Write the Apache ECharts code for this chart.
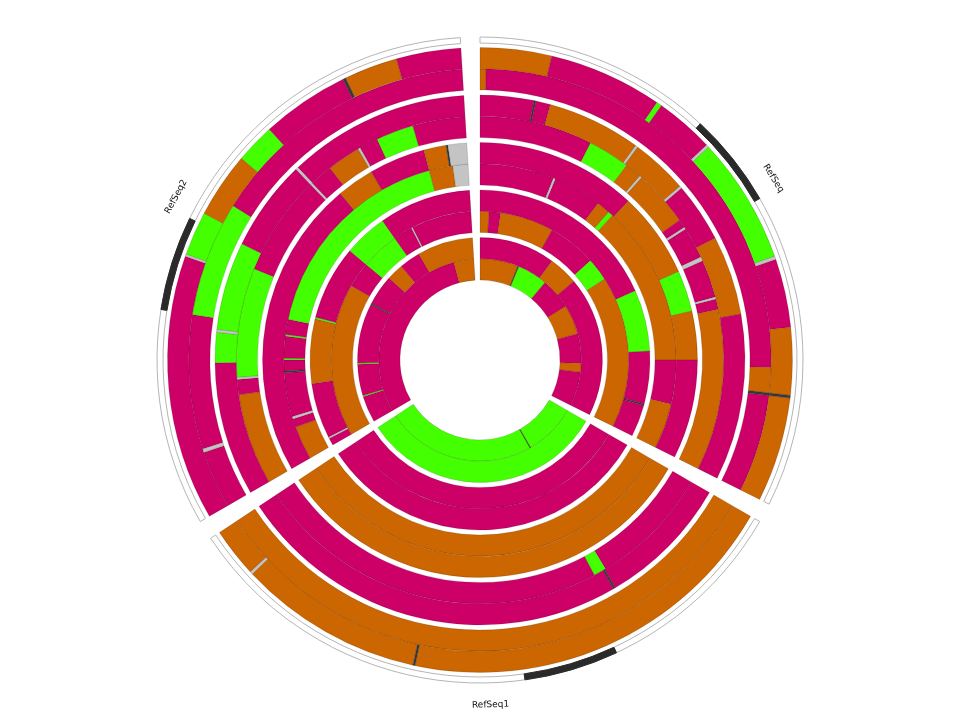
<!DOCTYPE html>
<html><head><meta charset="utf-8">
<script src="https://cdn.jsdelivr.net/npm/echarts/dist/echarts.min.js"></script>
<style>html,body{margin:0;padding:0;background:#fff}#c{width:960px;height:720px}</style>
</head><body><div id="c"></div>
<script>
// ---- data (segment start, end in sector units, class) ----
const sectorNames = ['RefSeq', 'RefSeq1', 'RefSeq2'];
const sectorOffset = [0, 120, 240];
const sectorLength = 116.5;
const darkBands = [[43, 60], [35, 52], [39, 56]];

const refSeq_t0a = [[0,22,'O'],[22,22.5,'k'],[22.5,40,'G'],[40,58,'M'],[58,75,'O'],[75,92,'M'],[92,97,'O'],[97,116.5,'M']];
const refSeq_t0b = [[0,36,'M'],[36,50,'O'],[50,116.5,'M']];
const refSeq_t1a = [[0,3.5,'O'],[3.5,8,'M'],[8,29,'O'],[29,48,'M'],[48,57,'G'],[57,116.5,'O']];
const refSeq_t1b = [[0,66,'M'],[66,87,'G'],[87,105,'M'],[105,105.5,'k'],[105.5,116.5,'M']];
const refSeq_t2a = [[0,22,'M'],[22,22.6,'gr'],[22.6,37,'M'],[37,41,'O'],[41,42.5,'G'],[42.5,90,'O'],[90,103,'M'],[103,116.5,'O']];
const refSeq_t2b = [[0,43,'M'],[43,66,'O'],[66,77,'G'],[77,90,'O'],[90,116.5,'M']];
const refSeq_t3a = [[0,27,'M'],[27,37,'G'],[37,41,'O'],[41,41.5,'gr'],[41.5,55,'O'],[55,57,'M'],[57,57.5,'gr'],[57.5,65,'M'],[65,66,'gr'],[66,75,'M'],[75,75.5,'gr'],[75.5,78,'M'],[78,116.5,'O']];
const refSeq_t3b = [[0,11.8,'M'],[11.8,12.2,'k'],[12.2,15.4,'M'],[15.4,36,'O'],[36,36.5,'gr'],[36.5,49,'O'],[49,49.5,'gr'],[49.5,62.6,'M'],[62.6,80,'O'],[80,116.5,'M']];
const refSeq_t4a = [[0,1.2,'O'],[1.2,91.5,'M'],[91.5,96.5,'O'],[96.5,97,'k'],[97,116.5,'M']];
const refSeq_t4b = [[0,13.3,'O'],[13.3,34.5,'M'],[34.5,35.5,'G'],[35.5,46.5,'M'],[46.5,47,'gr'],[47,70.6,'G'],[70.6,71.2,'gr'],[71.2,84,'M'],[84,96.5,'O'],[96.5,97,'k'],[97,116.5,'O']];

const refSeq1_t0a = [[0,30,'G'],[30,30.4,'k'],[30.4,116.5,'G']];
const refSeq1_t0b = [[0,116.5,'G']];
const refSeq1_t1a = [[0,116.5,'M']];
const refSeq1_t1b = [[0,116.5,'M']];
const refSeq1_t2a = [[0,116.5,'O']];
const refSeq1_t2b = [[0,116.5,'O']];
const refSeq1_t3a = [[0,29,'M'],[29,32,'G'],[32,116.5,'M']];
const refSeq1_t3b = [[0,29.3,'M'],[29.3,29.7,'k'],[29.7,116.5,'M']];
const refSeq1_t4a = [[0,116.5,'O']];
const refSeq1_t4b = [[0,72,'O'],[72,72.4,'k'],[72.4,106.8,'O'],[106.8,107.3,'gr'],[107.3,116.5,'O']];

const refSeq2_t0a = [[0,105,'M'],[105,116.5,'O']];
const refSeq2_t0b = [[0,12.6,'M'],[12.6,13.1,'G'],[13.1,28,'M'],[28,28.6,'G'],[28.6,57,'M'],[57,57.5,'k'],[57.5,72,'M'],[72,80,'O'],[80,90,'M'],[90,116.5,'O']];
const refSeq2_t1a = [[0,60,'O'],[60,70,'M'],[70,85,'G'],[85,92.5,'M'],[92.5,93,'gr'],[93,116.5,'M']];
const refSeq2_t1b = [[0,2.5,'M'],[2.5,3,'gr'],[3,22,'M'],[22,44,'O'],[44,44.6,'G'],[44.6,70,'M'],[70,85,'G'],[85,116.5,'M']];
const refSeq2_t2a = [[0,10,'O'],[10,12.5,'M'],[12.5,13.2,'gr'],[13.2,26.3,'M'],[26.3,26.8,'k'],[26.8,30,'M'],[30,30.5,'G'],[30.5,37,'M'],[37,37.5,'G'],[37.5,42,'M'],[42,105,'G'],[105,112,'O'],[112,116.5,'gr']];
const refSeq2_t2b = [[0,80,'M'],[80,90,'O'],[90,105,'M'],[105,111,'O'],[111,111.5,'k'],[111.5,116.5,'gr']];
const refSeq2_t3a = [[0,21.8,'O'],[21.8,25.4,'M'],[25.4,25.9,'gr'],[25.9,52,'G'],[52,76,'M'],[76,76.5,'gr'],[76.5,82,'M'],[82,90,'O'],[90,90.5,'gr'],[90.5,95,'M'],[95,104,'G'],[104,116.5,'M']];
const refSeq2_t3b = [[0,29.4,'M'],[29.4,36,'G'],[36,36.6,'gr'],[36.6,56,'G'],[56,76,'M'],[76,76.6,'gr'],[76.6,116.5,'M']];
const refSeq2_t4a = [[0,11.5,'M'],[11.5,12.2,'gr'],[12.2,39,'M'],[39,62,'G'],[62,116.5,'M']];
const refSeq2_t4b = [[0,49.4,'M'],[49.4,49.8,'gr'],[49.8,58,'G'],[58,70.2,'O'],[70.2,77.6,'G'],[77.6,94,'M'],[94,94.5,'k'],[94.5,104.5,'O'],[104.5,116.5,'M']];

// ---- layout ----
const COLORS = {M:'#cc0066', O:'#cc6600', G:'#44ff00', gr:'#c4c4c4', k:'#383838'};
const RING_INNER = 80, RING_STEP = 47.5, RING_WIDTH = 42.5;
const IDEO_R0 = 317, IDEO_R1 = 323, LABEL_R = 345;

const lanes = [
  [refSeq_t0a, refSeq_t0b, refSeq_t1a, refSeq_t1b, refSeq_t2a, refSeq_t2b, refSeq_t3a, refSeq_t3b, refSeq_t4a, refSeq_t4b],
  [refSeq1_t0a, refSeq1_t0b, refSeq1_t1a, refSeq1_t1b, refSeq1_t2a, refSeq1_t2b, refSeq1_t3a, refSeq1_t3b, refSeq1_t4a, refSeq1_t4b],
  [refSeq2_t0a, refSeq2_t0b, refSeq2_t1a, refSeq2_t1b, refSeq2_t2a, refSeq2_t2b, refSeq2_t3a, refSeq2_t3b, refSeq2_t4a, refSeq2_t4b]
];

const segs = [];
lanes.forEach((sl, s) => sl.forEach((lane, li) => {
  const ring = Math.floor(li / 2), sub = li % 2;
  const r0 = RING_INNER + ring * RING_STEP + sub * RING_WIDTH / 2;
  const r1 = r0 + RING_WIDTH / 2;
  lane.forEach(([a, b, c]) => segs.push({r0, r1, a0: sectorOffset[s] + a, a1: sectorOffset[s] + b, c}));
}));
const isBlock = c => c === 'M' || c === 'O' || c === 'G';
segs.sort((p, q) => (isBlock(p.c) ? 0 : 1) - (isBlock(q.c) ? 0 : 1));

const ideo = [];
sectorNames.forEach((n, s) => {
  ideo.push({r0: IDEO_R0, r1: IDEO_R1, a0: sectorOffset[s], a1: sectorOffset[s] + sectorLength, fill: '#ffffff', stroke: '#b5b5b5'});
  ideo.push({r0: IDEO_R0, r1: IDEO_R1, a0: sectorOffset[s] + darkBands[s][0], a1: sectorOffset[s] + darkBands[s][1], fill: '#2a2a2a', stroke: '#2a2a2a'});
});
const labels = sectorNames.map((n, s) => ({name: n, a: sectorOffset[s] + sectorLength / 2}));

function sectorShape(params, api, r0, r1, a0, a1) {
  const cs = params.coordSys;
  const cx = cs.cx, cy = cs.cy;
  const pA = api.coord([r1, a0]);
  const pB = api.coord([r1, a1]);
  const pI = api.coord([r0, a0]);
  const rr1 = Math.hypot(pA[0] - cx, pA[1] - cy);
  const rr0 = Math.hypot(pI[0] - cx, pI[1] - cy);
  let s = Math.atan2(pA[1] - cy, pA[0] - cx);
  let e = Math.atan2(pB[1] - cy, pB[0] - cx);
  if (e < s) e += Math.PI * 2;
  return {cx, cy, r0: rr0, r: rr1, startAngle: s, endAngle: e, clockwise: true};
}

const chart = echarts.init(document.getElementById('c'), null, {renderer: 'canvas'});
chart.setOption({
  animation: false,
  backgroundColor: '#ffffff',
  polar: {center: ['50%', '50%'], radius: 360},
  angleAxis: {type: 'value', min: 0, max: 360, startAngle: 90, clockwise: true, show: false},
  radiusAxis: {type: 'value', min: 0, max: 360, show: false},
  series: [
    {
      type: 'custom', coordinateSystem: 'polar', silent: true,
      data: segs.map(d => [(d.r0 + d.r1) / 2, (d.a0 + d.a1) / 2]),
      renderItem(params, api) {
        const d = segs[params.dataIndex];
        return {
          type: 'sector',
          shape: sectorShape(params, api, d.r0, d.r1, d.a0, d.a1),
          style: {fill: COLORS[d.c], stroke: 'rgba(0,0,0,0.28)', lineWidth: 0.5}
        };
      }
    },
    {
      type: 'custom', coordinateSystem: 'polar', silent: true,
      data: ideo.map(d => [(d.r0 + d.r1) / 2, (d.a0 + d.a1) / 2]),
      renderItem(params, api) {
        const d = ideo[params.dataIndex];
        return {
          type: 'sector',
          shape: sectorShape(params, api, d.r0, d.r1, d.a0, d.a1),
          style: {fill: d.fill, stroke: d.stroke, lineWidth: 1}
        };
      }
    },
    {
      type: 'custom', coordinateSystem: 'polar', silent: true,
      data: labels.map(d => [LABEL_R, d.a]),
      renderItem(params, api) {
        const d = labels[params.dataIndex];
        const p = api.coord([LABEL_R, d.a]);
        let rot = d.a;
        if (rot > 90 && rot < 270) rot -= 180;
        if (rot >= 270) rot -= 360;
        return {
          type: 'text', x: p[0], y: p[1], rotation: -rot * Math.PI / 180,
          style: {text: d.name, fill: '#111', font: '9px "DejaVu Sans"', align: 'center', verticalAlign: 'middle'}
        };
      }
    }
  ]
});
</script></body></html>
